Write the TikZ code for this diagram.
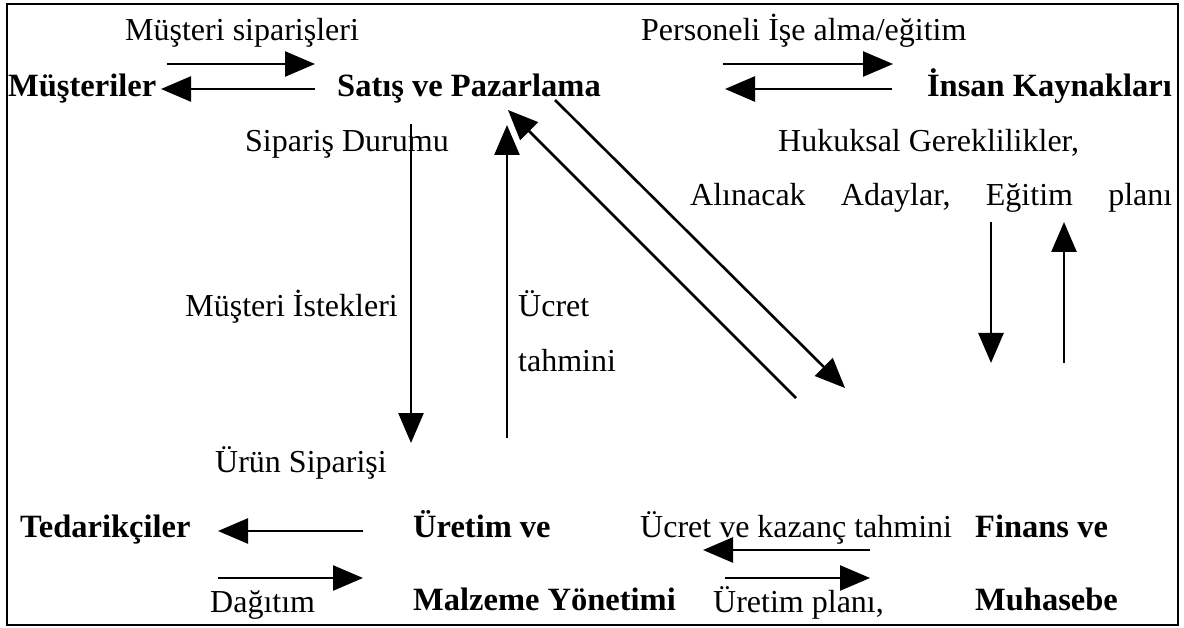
\documentclass[tikz,border=0pt]{standalone}
\usepackage{fontspec}
\setmainfont{Liberation Serif}
\usetikzlibrary{arrows.meta}
\begin{document}
\begin{tikzpicture}[x=1pt,y=-1pt,
  lbl/.style={inner sep=0pt, anchor=base west, font=\fontsize{32}{38}\selectfont},
  unit/.style={lbl, font=\fontsize{32.5}{38}\selectfont\bfseries},
  flow/.style={line width=2.6pt, -{Triangle[length=30pt,width=25pt]}}]
\useasboundingbox (0,0) rectangle (1184,628);
\draw[line width=1.6pt] (7,4) rectangle (1178,625);

% departments
\node[unit] (mus) at (8,97) {Müşteriler};
\node[unit] (satis) at (337,97) {Satış ve Pazarlama};
\node[unit, anchor=base east] (ik) at (1172,97) {İnsan Kaynakları};
\node[unit] (ted) at (20,537) {Tedarikçiler};
\node[unit] (uretim) at (413,537) {Üretim ve};
\node[unit] (malz) at (413,610) {Malzeme Yönetimi};
\node[unit] (finans) at (975,537) {Finans ve};
\node[unit] (muh) at (975,610) {Muhasebe};

% flow labels
\node[lbl] (sip) at (125,41) {Müşteri siparişleri};
\node[lbl] (pers) at (641,41) {Personeli İşe alma/eğitim};
\node[lbl] (durum) at (245,152) {Sipariş Durumu};
\node[lbl] (hukuk) at (778,152) {Hukuksal Gereklilikler,};
\node[lbl] (aday) at (690,206) {\hbox to 482pt{Alınacak\hfill Adaylar,\hfill Eğitim\hfill planı}};
\node[lbl, anchor=base east] (istek) at (398,317) {Müşteri İstekleri};
\node[lbl] (ucret) at (518,317) {Ücret};
\node[lbl] (tahmin) at (518,372) {tahmini};
\node[lbl] (urun) at (215,472) {Ürün Siparişi};
\node[lbl] (kazanc) at (640,537) {Ücret ve kazanç tahmini};
\node[lbl] (dagitim) at (210,612) {Dağıtım};
\node[lbl] (plan) at (713,612) {Üretim planı,};

% arrow end points
\coordinate (a1s) at (167,64);  \coordinate (a1e) at (315,64);
\coordinate (a2s) at (315,89);  \coordinate (a2e) at (161,89);
\coordinate (a3s) at (723,64);  \coordinate (a3e) at (893,64);
\coordinate (a4s) at (892,89);  \coordinate (a4e) at (725,89);
\coordinate (a5s) at (411,124); \coordinate (a5e) at (411,443);
\coordinate (a6s) at (507,438); \coordinate (a6e) at (507,125);
\coordinate (a7s) at (796,398); \coordinate (a7e) at (508,110);
\coordinate (a8s) at (555,100); \coordinate (a8e) at (845,388);
\coordinate (a9s) at (991,222); \coordinate (a9e) at (991,363);
\coordinate (a10s) at (1064,363); \coordinate (a10e) at (1064,222);
\coordinate (a11s) at (363,531); \coordinate (a11e) at (218,531);
\coordinate (a12s) at (218,578); \coordinate (a12e) at (363,578);
\coordinate (a13s) at (870,550); \coordinate (a13e) at (703,550);
\coordinate (a14s) at (725,578); \coordinate (a14e) at (870,578);

\foreach \k in {1,...,14}
  \draw[flow] (a\k s) -- (a\k e);
\end{tikzpicture}
\end{document}
